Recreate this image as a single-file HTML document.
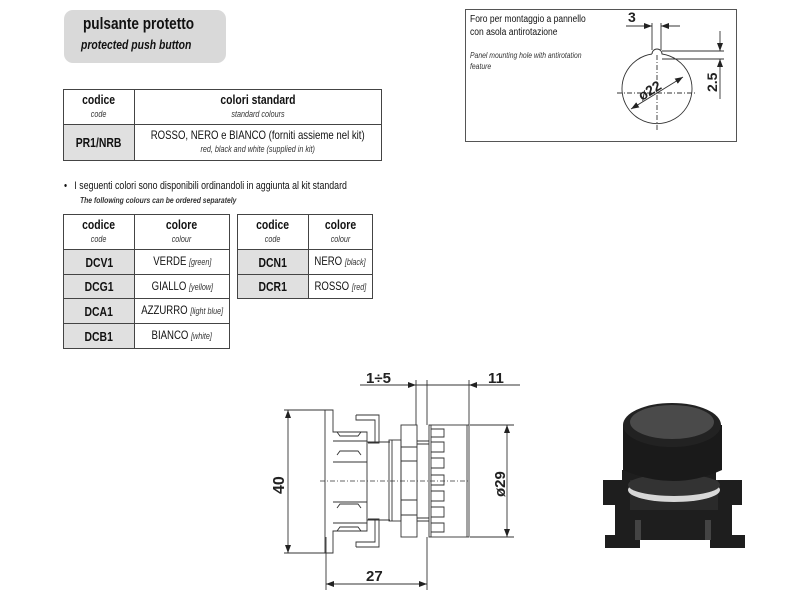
<!DOCTYPE html>
<html><head><meta charset="utf-8"><style>
body{margin:0;width:800px;height:600px;background:#fff;position:relative;overflow:hidden;font-family:"Liberation Sans",sans-serif;color:#111}
.a{position:absolute}
.n{transform-origin:0 0;white-space:nowrap}
table{border-collapse:collapse;position:absolute;table-layout:fixed}
td{border:1.5px solid #444;text-align:center;padding:0;font-size:12px;line-height:13px;white-space:nowrap;overflow:visible}
.g{background:#e0e0e0;font-weight:bold;font-size:13px}
.b{font-weight:bold;font-size:13px}
i{font-size:9px;color:#333}
.c{display:inline-block;transform:scaleX(.8);white-space:nowrap;margin:0 -40px}
</style></head><body>
<div class="a" style="left:64px;top:10px;width:162px;height:53px;background:#d9d9d9;border-radius:9px"></div>
<div class="a n" style="left:83px;top:14px;font-size:17px;font-weight:bold;transform:scaleX(.8)">pulsante protetto</div>
<div class="a n" style="left:81px;top:37px;font-size:13px;font-weight:bold;font-style:italic;transform:scaleX(.8)">protected push button</div>

<table style="left:63px;top:89px;width:319px">
<colgroup><col style="width:71px"><col></colgroup>
<tr style="height:35px"><td><span class="c"><span class="b">codice</span><br><i>code</i></span></td><td><span class="c"><span class="b">colori standard</span><br><i>standard colours</i></span></td></tr>
<tr style="height:36px"><td class="g"><span class="c">PR1/NRB</span></td><td><span class="c">ROSSO, NERO e BIANCO (forniti assieme nel kit)<br><i>red, black and white (supplied in kit)</i></span></td></tr>
</table>

<div class="a n" style="left:64px;top:180px;font-size:11px;transform:scaleX(.8)">•&nbsp;&nbsp;&nbsp;I seguenti colori sono disponibili ordinandoli in aggiunta al kit standard</div>
<div class="a n" style="left:80px;top:195px;font-size:8.5px;font-style:italic;font-weight:bold;color:#333;transform:scaleX(.8)">The following colours can be ordered separately</div>

<table style="left:63px;top:214px;width:167px">
<colgroup><col style="width:71px"><col></colgroup>
<tr style="height:35px"><td><span class="c"><span class="b">codice</span><br><i>code</i></span></td><td><span class="c"><span class="b">colore</span><br><i>colour</i></span></td></tr>
<tr style="height:25px"><td class="g"><span class="c">DCV1</span></td><td><span class="c">VERDE <i>[green]</i></span></td></tr>
<tr style="height:24px"><td class="g"><span class="c">DCG1</span></td><td><span class="c">GIALLO <i>[yellow]</i></span></td></tr>
<tr style="height:25px"><td class="g"><span class="c">DCA1</span></td><td><span class="c">AZZURRO <i>[light blue]</i></span></td></tr>
<tr style="height:25px"><td class="g"><span class="c">DCB1</span></td><td><span class="c">BIANCO <i>[white]</i></span></td></tr>
</table>
<table style="left:237px;top:214px;width:136px">
<colgroup><col style="width:71px"><col></colgroup>
<tr style="height:35px"><td><span class="c"><span class="b">codice</span><br><i>code</i></span></td><td><span class="c"><span class="b">colore</span><br><i>colour</i></span></td></tr>
<tr style="height:25px"><td class="g"><span class="c">DCN1</span></td><td><span class="c">NERO <i>[black]</i></span></td></tr>
<tr style="height:24px"><td class="g"><span class="c">DCR1</span></td><td><span class="c">ROSSO <i>[red]</i></span></td></tr>
</table>

<div class="a" style="left:465px;top:9px;width:270px;height:131px;border:1.5px solid #555"></div>
<div class="a n" style="left:470px;top:13px;font-size:10px;line-height:13px;transform:scaleX(.85)">Foro per montaggio a pannello<br>con asola antirotazione</div>
<div class="a n" style="left:470px;top:50px;font-size:8px;line-height:11px;font-style:italic;color:#333;transform:scaleX(.85)">Panel mounting hole with antirotation<br>feature</div>

<svg class="a" style="left:0;top:0" width="800" height="600" viewBox="0 0 800 600">
<defs><marker id="ar" markerWidth="8" markerHeight="6" refX="8" refY="3" orient="auto" markerUnits="userSpaceOnUse"><path d="M0,0L8,3L0,6z" fill="#222"/></marker>
<marker id="al" markerWidth="8" markerHeight="6" refX="0" refY="3" orient="auto" markerUnits="userSpaceOnUse"><path d="M8,0L0,3L8,6z" fill="#222"/></marker></defs>
<g stroke="#333" stroke-width="0.9" fill="none">
<path d="M652,54 A35,35 0 1 0 662,54 A5,5 0 0 0 652,54" />
<line x1="652" y1="23" x2="652" y2="50"/><line x1="661" y1="23" x2="661" y2="50"/>
<line x1="626" y1="26" x2="652" y2="26" marker-end="url(#ar)"/><line x1="680" y1="26" x2="661" y2="26" marker-end="url(#ar)"/>
<line x1="662" y1="51" x2="724" y2="51"/><line x1="662" y1="59" x2="724" y2="59"/>
<line x1="720" y1="31" x2="720" y2="51" marker-end="url(#ar)"/><line x1="720" y1="99" x2="720" y2="59" marker-end="url(#ar)"/>
<line x1="617" y1="93" x2="697" y2="93" stroke-dasharray="5,2,1,2"/><line x1="657" y1="55" x2="657" y2="130" stroke-dasharray="5,2,1,2"/>
<line x1="631" y1="109" x2="683" y2="77" marker-start="url(#al)" marker-end="url(#ar)"/>
<line x1="284" y1="410" x2="325" y2="410"/><line x1="284" y1="553" x2="325" y2="553"/>
<line x1="288" y1="410" x2="288" y2="553" marker-start="url(#al)" marker-end="url(#ar)"/>
<path d="M325,410 L333,410 L333,432 L367,432 L367,531 L333,531 L333,553 L325,553 Z"/>
<path d="M333,441 L367,441 M333,462 L367,462 M333,502 L367,502 M333,523 L367,523"/>
<path d="M337,432 l3,4 h18 l3,-4 M337,455 l3,-4 h18 l3,4 M337,508 l3,-4 h18 l3,4 M337,531 l3,-4 h18 l3,4"/>
<path d="M356,415 H379 V443 H368 M370,420 H375 V442 M356,415 V420 H370"/>
<path d="M356,547 H379 V519 H368 M370,542 H375 V520 M356,547 V542 H370"/>
<path d="M367,442 H390 M367,520 H390"/>
<rect x="389" y="440" width="12" height="81"/><line x1="392" y1="440" x2="392" y2="521"/>
<rect x="401" y="425" width="16" height="112"/><path d="M401,447 H417 M401,461 H417 M401,500 H417 M401,515 H417"/>
<path d="M417,441 H429 M417,444 H429 M417,518 H429 M417,521 H429"/>
<rect x="429" y="425" width="40" height="112"/><line x1="431" y1="425" x2="431" y2="537"/><line x1="467" y1="425" x2="467" y2="537"/>
<path d="M431,429 h13 v8 h-13 M431,442 h13 v10 h-13 M431,458 h13 v10 h-13 M431,475 h13 v10 h-13 M431,491 h13 v10 h-13 M431,507 h13 v10 h-13 M431,523 h13 v9 h-13"/>
<line x1="320" y1="481" x2="470" y2="481" stroke-dasharray="5,2,1,2" stroke-width="0.7"/>
<line x1="470" y1="425" x2="514" y2="425"/><line x1="470" y1="537" x2="514" y2="537"/>
<line x1="507" y1="425" x2="507" y2="537" marker-start="url(#al)" marker-end="url(#ar)"/>
<line x1="416" y1="380" x2="416" y2="425"/><line x1="427" y1="380" x2="427" y2="425"/><line x1="469" y1="380" x2="469" y2="425"/>
<line x1="360" y1="385" x2="416" y2="385" marker-end="url(#ar)"/><line x1="416" y1="385" x2="520" y2="385"/>
<line x1="520" y1="385" x2="469" y2="385" marker-end="url(#ar)"/>
<line x1="326" y1="537" x2="326" y2="590"/><line x1="427" y1="537" x2="427" y2="590"/>
<line x1="326" y1="584" x2="427" y2="584" marker-start="url(#al)" marker-end="url(#ar)"/>
</g>
<g font-family="Liberation Sans" font-weight="bold" fill="#222">
<text x="628" y="22" font-size="14">3</text>
<text x="717" y="92" font-size="14" transform="rotate(-90 717 92)">2.5</text>
<text x="642" y="101" font-size="14" transform="rotate(-32 642 101)">ø22</text>
<text x="366" y="383" font-size="15">1÷5</text>
<text x="488" y="383" font-size="15">11</text>
<text x="366" y="581" font-size="15">27</text>
<text x="284" y="494" font-size="16" transform="rotate(-90 284 494)">40</text>
<text x="505" y="497" font-size="15" transform="rotate(-90 505 497)">ø29</text>
</g>
<g>
<path d="M603,480 H622 V470 H716 V480 H742 V505 H732 V535 H745 V548 H710 V540 H640 V548 H605 V535 H615 V505 H603 Z" fill="#1e1e1e"/>
<rect x="630" y="480" width="88" height="30" fill="#2a2a2a"/>
<ellipse cx="674" cy="490" rx="46" ry="12" fill="#d8d8d8"/>
<ellipse cx="674" cy="485" rx="46" ry="11" fill="#333"/>
<path d="M623,425 V470 Q674,492 722,470 V425 Z" fill="#1a1a1a"/>
<ellipse cx="672" cy="425" rx="49" ry="22" fill="#222"/>
<ellipse cx="672" cy="422" rx="42" ry="17" fill="#4a4a4a"/>
<rect x="635" y="520" width="6" height="20" fill="#444"/><rect x="705" y="520" width="6" height="20" fill="#444"/>
</g>
</svg>
</body></html>
